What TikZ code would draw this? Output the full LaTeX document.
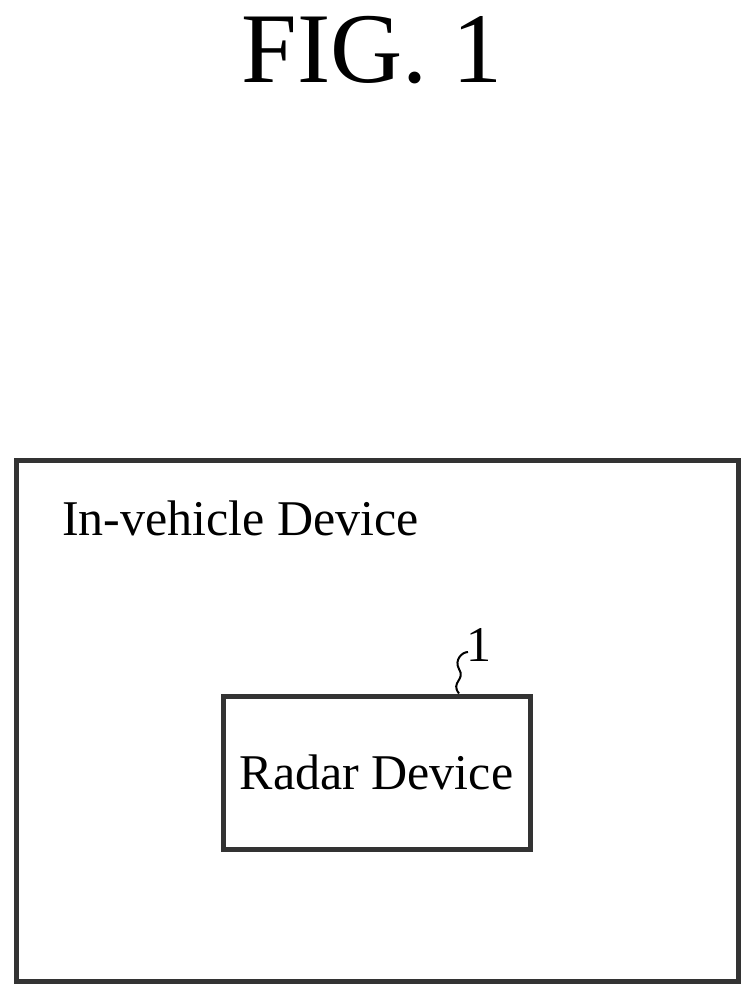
\documentclass[tikz,border=0pt]{standalone}
\usepackage{fontspec}
\setmainfont{Liberation Serif}
\usetikzlibrary{positioning}
\begin{document}
\begin{tikzpicture}[x=1pt,y=-1pt]
    \tikzstyle{box}=[draw=black!80,line width=5pt]
    \tikzstyle{annot}=[inner sep=0pt,anchor=base west]

    \useasboundingbox (0,0) rectangle (753,1004);

    % Title
    \node[inner sep=0pt,font=\fontsize{100}{100}\selectfont] (title) at (372,50) {FIG. 1};

    % Outer device
    \draw[box] (16,460) rectangle (738,981);
    \node[annot,font=\fontsize{50}{50}\selectfont] (outer) at (62,535) {In-vehicle Device};

    % Radar device
    \node[box,minimum width=307pt,minimum height=153pt,inner sep=0pt,
          font=\fontsize{50}{50}\selectfont] (radar) at (376.5,772.5) {Radar Device};

    % Reference numeral
    \node[inner sep=0pt,font=\fontsize{50}{50}\selectfont] (num) at (479,645) {1};
    \coordinate (tip) at (459,669);
    \draw[line width=2pt] (radar.north -| tip) .. controls (450,682) and (466,680) .. (tip)
        .. controls (454,660) and (462,652) .. (468,652);
\end{tikzpicture}
\end{document}
